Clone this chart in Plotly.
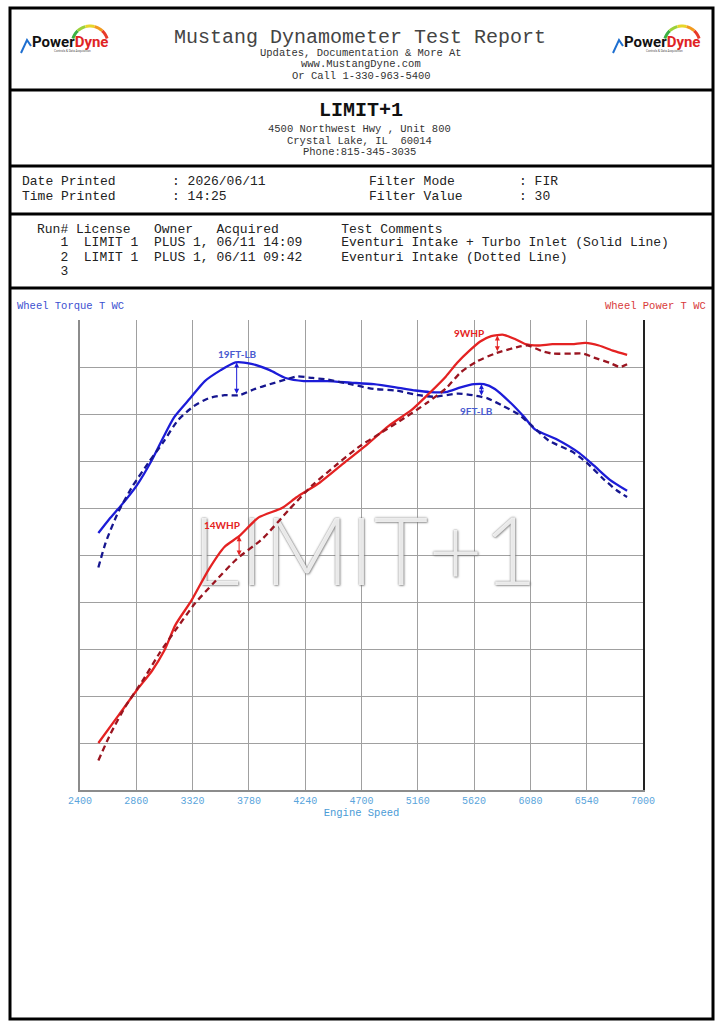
import numpy as np
import plotly.graph_objects as go

# x ticks (engine speed)
rpm_ticks = [2400, 2860, 3320, 3780, 4240, 4700, 5160, 5620, 6080, 6540, 7000]

# run 1 = solid, run 2 = dotted
torque_rpm_run1 = [2550, 2640, 2740, 2860, 2990, 3080, 3170, 3300, 3420, 3550, 3670, 3800, 3950, 4080, 4230, 4420, 4610,
                   4800, 4980, 5140, 5260, 5390, 5510, 5620, 5700, 5790, 5920, 6030, 6120, 6290, 6480, 6600, 6730, 6870]
torque_run1 = [264, 273, 282, 294, 311, 325, 338, 350, 361, 368, 373, 372, 368, 363, 361, 361, 360,
               359, 357, 355, 354, 354, 357, 359, 359, 356, 347, 338, 330, 324, 315, 307, 298, 291]

torque_rpm_run2 = [2550, 2610, 2710, 2830, 2960, 3080, 3200, 3330, 3450, 3580, 3700, 3830, 3950, 4080, 4170, 4300, 4420,
                   4610, 4800, 4980, 5170, 5290, 5490, 5610, 5730, 5860, 5980, 6100, 6230, 6420, 6540, 6670, 6790, 6870]
torque_run2 = [242, 258, 277, 294, 309, 322, 336, 345, 350, 352, 352, 356, 359, 362, 364, 363, 362,
               359, 356, 355, 352, 351, 353, 352, 350, 345, 340, 332, 323, 316, 309, 299, 291, 287]

power_rpm_run1 = [2550, 2710, 2870, 2990, 3090, 3180, 3310, 3450, 3580, 3700, 3860, 4050, 4170, 4360, 4550, 4730, 4920,
                  5110, 5260, 5390, 5480, 5580, 5670, 5760, 5860, 5950, 6040, 6140, 6260, 6420, 6530, 6640, 6760, 6870]
power_run1 = [35, 55, 75, 89, 104, 123, 141, 164, 181, 189, 203, 210, 218, 229, 243, 256, 271,
              283, 296, 308, 318, 327, 334, 338, 339, 336, 332, 331, 332, 332, 333, 331, 327, 324]

power_rpm_run2 = [2550, 2650, 2770, 2930, 3050, 3180, 3340, 3490, 3680, 3890, 4110, 4300, 4480, 4670, 4860, 5050,
                  5230, 5390, 5510, 5640, 5790, 5980, 6060, 6170, 6260, 6420, 6510, 6600, 6730, 6810, 6870]
power_run2 = [22, 42, 62, 84, 102, 119, 139, 154, 172, 187, 209, 227, 241, 255, 266, 277,
              288, 299, 311, 319, 325, 330, 331, 327, 325, 325, 325, 322, 318, 315, 317]

# page geometry (pixels)
W, H = 719, 1024
L, R, T, B = 80, 643, 320, 790
MONO = "Liberation Mono"


def px(x):
    return (x - L) / (R - L)


def py(y):
    return (B - y) / (B - T)


def txt(x, y, s, size, color="#222", anchor="center", family=MONO, bold=False):
    return dict(x=px(x), y=py(y), xref="paper", yref="paper", text=s, showarrow=False,
                xanchor=anchor, yanchor="middle",
                font=dict(family=family, size=size, color=color, weight="bold" if bold else "normal"))


fig = go.Figure()

# watermark (drawn first so the curves sit on top of it)
fig.add_trace(go.Scatter(x=[4725], y=[246], mode="text", text=["LIMIT+1"], hoverinfo="skip",
                         textfont=dict(family="Lato", size=94, weight=300, color="rgba(255,255,255,0.85)",
                                       shadow="0px 0px 2px rgba(80,80,80,0.9), 1px 1px 2px rgba(140,140,140,0.8)")))

# torque
fig.add_trace(go.Scatter(x=torque_rpm_run1, y=torque_run1, mode="lines", name="Torque run 1",
                         line=dict(color="#1c1cd8", width=2.3, shape="spline", smoothing=0.6)))
fig.add_trace(go.Scatter(x=torque_rpm_run2, y=torque_run2, mode="lines", name="Torque run 2",
                         line=dict(color="#16168f", width=2.3, dash="6px,4px", shape="spline", smoothing=0.6)))
# power
fig.add_trace(go.Scatter(x=power_rpm_run1, y=power_run1, mode="lines", name="Power run 1", yaxis="y2",
                         line=dict(color="#e42222", width=2.3, shape="spline", smoothing=0.6)))
fig.add_trace(go.Scatter(x=power_rpm_run2, y=power_run2, mode="lines", name="Power run 2", yaxis="y2",
                         line=dict(color="#9a1520", width=2.3, dash="6px,4px", shape="spline", smoothing=0.6)))

ann = []

# difference arrows, endpoints
def diff_arrow(rpm, xs1, ys1, xs2, ys2, yref, color):
    y1 = float(np.interp(rpm, xs1, ys1))
    y2 = float(np.interp(rpm, xs2, ys2))
    return dict(x=rpm, y=y1, ax=rpm, ay=y2, xref="x", yref=yref, axref="x", ayref=yref, text="",
                showarrow=True, arrowhead=2, arrowside="end+start", arrowsize=1, arrowwidth=1, arrowcolor=color)

ann.append(diff_arrow(3680, torque_rpm_run1, torque_run1, torque_rpm_run2, torque_run2, "y", "#1c1cd8"))
ann.append(diff_arrow(5680, torque_rpm_run1, torque_run1, torque_rpm_run2, torque_run2, "y", "#1c1cd8"))
ann.append(diff_arrow(5810, power_rpm_run1, power_run1, power_rpm_run2, power_run2, "y2", "#e42222"))
ann.append(diff_arrow(3700, power_rpm_run1, power_run1, power_rpm_run2, power_run2, "y2", "#e42222"))

lab = dict(family="Lato", size=10, weight="bold")
ann.append(dict(x=3690, y=378, xref="x", yref="y", text="19FT-LB", showarrow=False, font=dict(lab, color="#4a5bd0")))
ann.append(dict(x=5640, y=342, xref="x", yref="y", text="9FT-LB", showarrow=False, font=dict(lab, color="#4a5bd0")))
ann.append(dict(x=5580, y=340, xref="x", yref="y2", text="9WHP", showarrow=False, font=dict(lab, color="#e42222")))
ann.append(dict(x=3560, y=197, xref="x", yref="y2", text="14WHP", showarrow=False, font=dict(lab, color="#e42222")))

# header
ann.append(txt(360, 37, "Mustang Dynamometer Test Report", 20, color="#444"))
ann.append(txt(361, 53, "Updates, Documentation & More At", 10.5, color="#333"))
ann.append(txt(361, 64, "www.MustangDyne.com", 10.5, color="#333"))
ann.append(txt(361, 76, "Or Call 1-330-963-5400", 10.5, color="#333"))

ann.append(txt(361, 111, "LIMIT+1", 20, color="#111", bold=True))
ann.append(txt(359, 129, "4500 Northwest Hwy , Unit 800", 10.5, color="#333"))
ann.append(txt(359, 141, "Crystal Lake, IL  60014", 10.5, color="#333"))
ann.append(txt(359, 152, "Phone:815-345-3035", 10.5, color="#333"))

ann.append(txt(20, 182, "Date Printed", 13, anchor="left"))
ann.append(txt(170, 182, ": 2026/06/11", 13, anchor="left"))
ann.append(txt(367, 182, "Filter Mode", 13, anchor="left"))
ann.append(txt(517, 182, ": FIR", 13, anchor="left"))
ann.append(txt(20, 197, "Time Printed", 13, anchor="left"))
ann.append(txt(170, 197, ": 14:25", 13, anchor="left"))
ann.append(txt(367, 197, "Filter Value", 13, anchor="left"))
ann.append(txt(517, 197, ": 30", 13, anchor="left"))

ann.append(txt(35, 229, "Run# License   Owner   Acquired        Test Comments", 13, anchor="left"))
ann.append(txt(35, 243, "   1  LIMIT 1  PLUS 1, 06/11 14:09     Eventuri Intake + Turbo Inlet (Solid Line)", 13, anchor="left"))
ann.append(txt(35, 257, "   2  LIMIT 1  PLUS 1, 06/11 09:42     Eventuri Intake (Dotted Line)", 13, anchor="left"))
ann.append(txt(35, 271, "   3", 13, anchor="left"))

ann.append(txt(15, 306, "Wheel Torque T WC", 10.5, color="#3b4fd0", anchor="left"))
ann.append(txt(708, 306, "Wheel Power T WC", 10.5, color="#d83a3a", anchor="right"))

# borders
shapes = [dict(type="rect", xref="paper", yref="paper", x0=px(10), x1=px(713), y0=py(8), y1=py(1019),
               line=dict(color="black", width=3))]
for yy in [90, 166, 214, 288]:
    shapes.append(dict(type="line", xref="paper", yref="paper", x0=px(10), x1=px(713), y0=py(yy), y1=py(yy),
                       line=dict(color="black", width=3)))

# PowerDyne logos
for off in [0, 592]:
    ann.append(dict(x=px(70 + off), y=py(42), xref="paper", yref="paper", showarrow=False,
                    xanchor="center", yanchor="middle",
                    text="Power<span style='color:#e02424'>Dyne</span>",
                    font=dict(family="Roboto", size=15, weight="bold", color="#111")))
    ann.append(txt(72 + off, 51, "Controls & Data Acquisition", 3, color="#555", family="Roboto"))
    cols = ["#3cb043", "#9bd13a", "#e8d62a", "#f29a1f", "#e83a2a"]
    angs = np.linspace(np.pi * 0.9, np.pi * 0.1, len(cols) + 1)
    for i, c in enumerate(cols):
        a = np.linspace(angs[i], angs[i + 1], 6)
        pts = [(px(90 + off + 18 * np.cos(t)), py(44 - 18 * np.sin(t))) for t in a]
        path = "M " + " L ".join(f"{x:.5f},{y:.5f}" for x, y in pts)
        shapes.append(dict(type="path", xref="paper", yref="paper", path=path, line=dict(color=c, width=3)))
    chk = [(21, 53), (27, 40), (31, 46)]
    path = "M " + " L ".join(f"{px(x + off):.5f},{py(y):.5f}" for x, y in chk)
    shapes.append(dict(type="path", xref="paper", yref="paper", path=path, line=dict(color="#1e6fd0", width=2)))

fig.update_layout(
    width=W, height=H,
    margin=dict(l=L, r=W - R, t=T, b=H - B),
    paper_bgcolor="white", plot_bgcolor="white",
    showlegend=False,
    annotations=ann, shapes=shapes,
    xaxis=dict(range=[2400, 7000], tickvals=rpm_ticks, ticktext=[str(v) for v in rpm_ticks],
               tickfont=dict(family=MONO, size=10, color="#5aa5dc"),
               title=dict(text="Engine Speed", font=dict(family=MONO, size=10.5, color="#4a9bd6"), standoff=2),
               showgrid=True, gridcolor="#a0a0a0", gridwidth=1,
               showline=True, linecolor="#8c8c8c", linewidth=2, zeroline=False, ticks=""),
    yaxis=dict(range=[100, 400], tick0=100, dtick=30, showticklabels=False, showgrid=True, gridcolor="#a0a0a0",
               showline=True, linecolor="#8c8c8c", linewidth=2, zeroline=False, ticks=""),
    yaxis2=dict(range=[0, 350], overlaying="y", side="right", showgrid=False, showticklabels=False,
                showline=True, linecolor="#222", linewidth=1.5, zeroline=False, ticks=""),
)

# page has no body margin, so the figure sits at the window corner
fig.write_html("out.html", config={"displayModeBar": False},
               post_script="document.body.style.margin='0';")
